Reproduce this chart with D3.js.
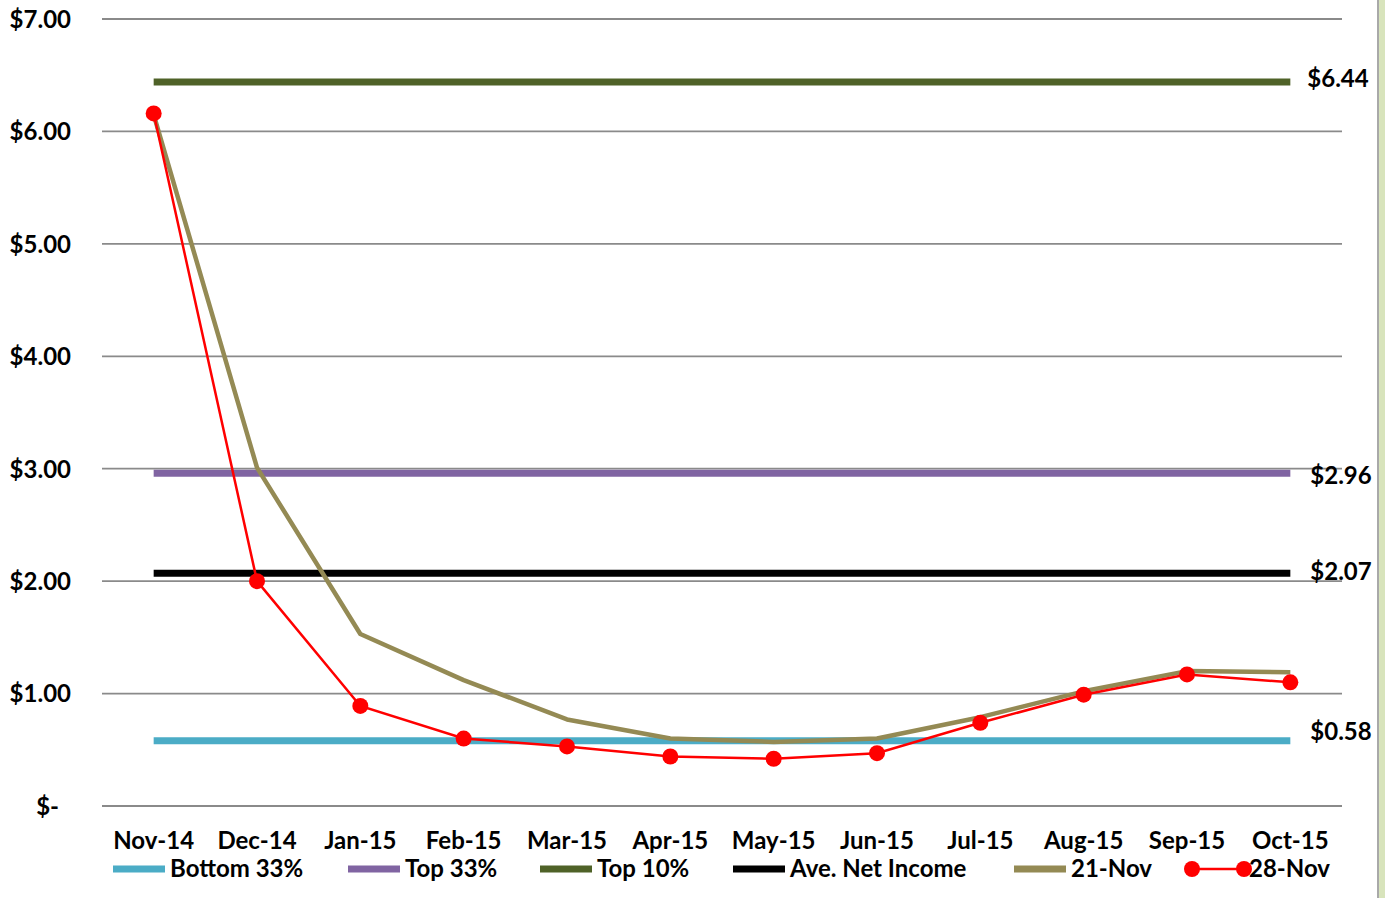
<!DOCTYPE html>
<html>
<head>
<meta charset="utf-8">
<script src="https://cdn.jsdelivr.net/npm/d3@7"></script>
<style>
  html, body { margin: 0; padding: 0; background: #fff; }
  svg { display: block; }
  text { font-family: Lato, "Open Sans", sans-serif; font-weight: bold; fill: #000; }
</style>
</head>
<body>
<svg id="chart" width="1385" height="898"></svg>
<script>
// ---- data ----
const categories = ["Nov-14","Dec-14","Jan-15","Feb-15","Mar-15","Apr-15","May-15","Jun-15","Jul-15","Aug-15","Sep-15","Oct-15"];
const bottom33 = 0.58;
const top33 = 2.96;
const top10 = 6.44;
const aveNetIncome = 2.07;
const nov21 = [6.15, 3.01, 1.53, 1.12, 0.77, 0.60, 0.57, 0.60, 0.79, 1.02, 1.20, 1.19];
const nov28 = [6.16, 2.00, 0.89, 0.60, 0.53, 0.44, 0.42, 0.47, 0.74, 0.99, 1.17, 1.10];
const yTicks = [0, 1, 2, 3, 4, 5, 6, 7];
const refLabels = ["$6.44", "$2.96", "$2.07", "$0.58"];

// ---- layout ----
const W = 1385, H = 898;
const FS = 24;
const plot = { left: 102, right: 1342, top: 19, bottom: 806 };
const svg = d3.select("#chart");

const x = d3.scaleBand().domain(categories).range([plot.left, plot.right]).paddingInner(0).paddingOuter(0);
const cx = d => x(d) + x.bandwidth() / 2;
const y = d3.scaleLinear().domain([0, 7]).range([plot.bottom, plot.top]);

// right border
svg.append("rect").attr("x", 1379).attr("y", 0).attr("width", W - 1379).attr("height", H).attr("fill", "#d8e4bc");
svg.append("line").attr("x1", 1378).attr("x2", 1378).attr("y1", 0).attr("y2", H)
  .attr("stroke", "#8c8c8c").attr("stroke-width", 1.5);

// gridlines
svg.append("g").selectAll("line").data(yTicks).join("line")
  .attr("x1", plot.left).attr("x2", plot.right)
  .attr("y1", d => y(d)).attr("y2", d => y(d))
  .attr("stroke", "#8a8a8a").attr("stroke-width", 1.8);

// y axis labels
const yAxis = d3.axisLeft(y).tickValues(yTicks).tickSize(0).tickPadding(0)
  .tickFormat(d => d === 0 ? "$-" : "$" + d3.format(".2f")(d));
const yg = svg.append("g").attr("transform", "translate(71,0)").call(yAxis);
yg.select(".domain").remove();
yg.selectAll("text").attr("font-size", FS).attr("font-family", null).attr("dy", "0.35em")
  .attr("dx", d => d === 0 ? -12 : 0);

// x axis labels
const xAxis = d3.axisBottom(x).tickSize(0).tickPadding(0);
const xg = svg.append("g").attr("transform", `translate(0,${plot.bottom})`).call(xAxis);
xg.select(".domain").remove();
xg.selectAll("text").attr("font-size", FS).attr("font-family", null).attr("y", 35).attr("dy", "0.35em");

// horizontal reference series
const refs = [
  { name: "Top 10%", v: top10, color: "#4f6228", lab: refLabels[0], lx: 17, ly: -3 },
  { name: "Top 33%", v: top33, color: "#8064a2", lab: refLabels[1], lx: 20, ly: 2 },
  { name: "Ave. Net Income", v: aveNetIncome, color: "#000000", lab: refLabels[2], lx: 20, ly: -2 },
  { name: "Bottom 33%", v: bottom33, color: "#4bacc6", lab: refLabels[3], lx: 20, ly: -9 }
];
const first = categories[0], last = categories[categories.length - 1];
svg.append("g").selectAll("line").data(refs).join("line")
  .attr("x1", cx(first)).attr("x2", cx(last))
  .attr("y1", d => y(d.v)).attr("y2", d => y(d.v))
  .attr("stroke", d => d.color).attr("stroke-width", 7);

svg.append("g").selectAll("text").data(refs).join("text")
  .attr("x", d => cx(last) + d.lx).attr("y", d => y(d.v) + d.ly)
  .attr("dy", "0.35em").attr("font-size", FS).text(d => d.lab);

// 21-Nov line
const line = d3.line().x((d, i) => cx(categories[i])).y(d => y(d));
svg.append("path").datum(nov21).attr("d", line)
  .attr("fill", "none").attr("stroke", "#948a54").attr("stroke-width", 4.5).attr("stroke-linejoin", "round");

// 28-Nov line
svg.append("path").datum(nov28).attr("d", line)
  .attr("fill", "none").attr("stroke", "#ff0000").attr("stroke-width", 2.5);
svg.append("g").selectAll("circle").data(nov28).join("circle")
  .attr("cx", (d, i) => cx(categories[i])).attr("cy", d => y(d)).attr("r", 8).attr("fill", "#ff0000");

// legend
const legend = [
  { name: "Bottom 33%", color: "#4bacc6", x: 113 },
  { name: "Top 33%", color: "#8064a2", x: 348 },
  { name: "Top 10%", color: "#4f6228", x: 540 },
  { name: "Ave. Net Income", color: "#000000", x: 733 },
  { name: "21-Nov", color: "#948a54", x: 1014 },
  { name: "28-Nov", color: "#ff0000", x: 1192, marker: true }
];
const ly = 869;
const lg = svg.append("g");
legend.forEach(d => {
  const g = lg.append("g");
  g.append("line").attr("x1", d.x).attr("x2", d.x + 52).attr("y1", ly).attr("y2", ly)
    .attr("stroke", d.color).attr("stroke-width", d.marker ? 2.5 : 7);
  if (d.marker) {
    g.append("circle").attr("cx", d.x).attr("cy", ly).attr("r", 8).attr("fill", d.color);
    g.append("circle").attr("cx", d.x + 52).attr("cy", ly).attr("r", 8).attr("fill", d.color);
  }
  g.append("text").attr("x", d.x + 57).attr("y", ly).attr("dy", "0.35em").attr("font-size", FS).text(d.name);
});
</script>
</body>
</html>
